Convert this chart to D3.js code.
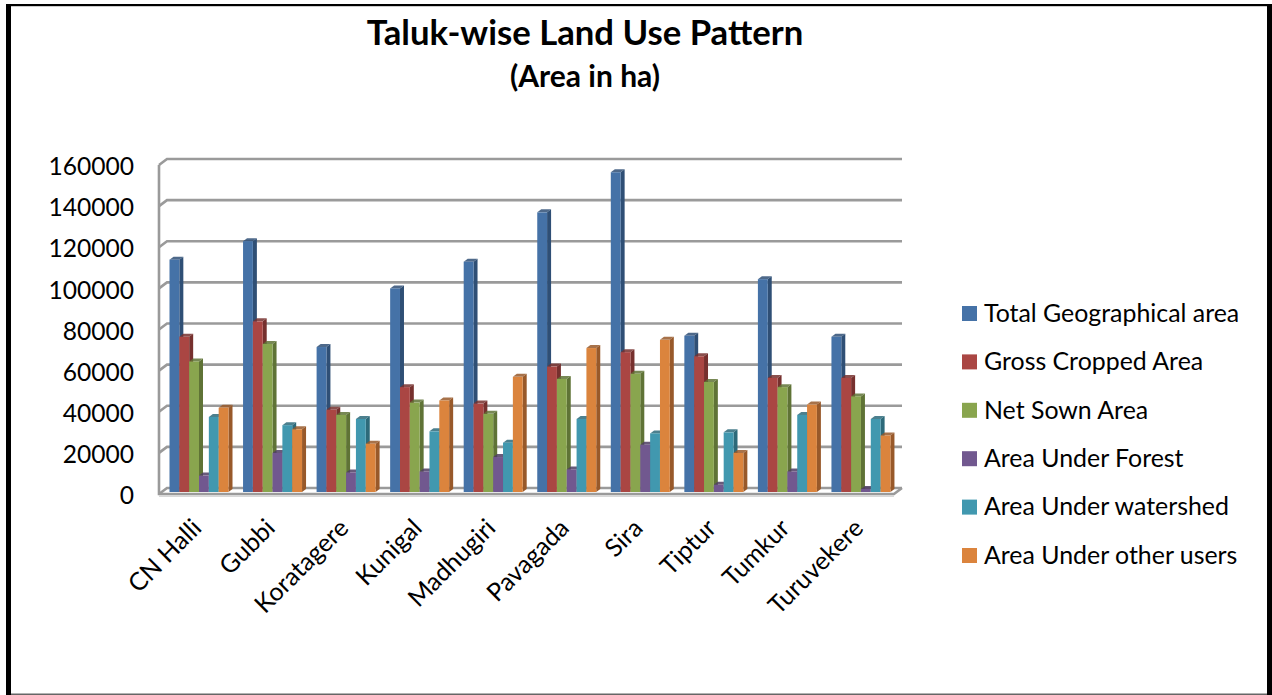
<!DOCTYPE html>
<html><head><meta charset="utf-8">
<script src="https://cdn.jsdelivr.net/npm/d3@7"></script>
<style>html,body{margin:0;padding:0;background:#fff}svg{display:block}text{font-family:Lato,"Open Sans",sans-serif;fill:#000}</style>
</head><body><svg id="c" width="1272" height="695"></svg>
<script>
const categories=["CN Halli","Gubbi","Koratagere","Kunigal","Madhugiri","Pavagada","Sira","Tiptur","Tumkur","Turuvekere"];
const seriesNames=["Total Geographical area","Gross Cropped Area","Net Sown Area","Area Under Forest","Area Under watershed","Area Under other users"];
const totalGeographical=[113000,122000,70500,99000,112000,136000,155500,76000,103500,75500];
const grossCropped=[75500,83000,40000,51000,43000,61000,68000,66000,55500,55500];
const netSown=[63500,72000,37500,43500,38000,55000,57500,53500,51000,46500];
const underForest=[8000,19000,9500,10000,17000,11000,23000,3500,10000,1500];
const underWatershed=[36500,32500,35500,29500,24000,35500,28500,29000,37500,35500];
const underOther=[41000,30500,23500,44500,56000,70000,74000,19000,42500,27500];
const seriesValues=[totalGeographical,grossCropped,netSown,underForest,underWatershed,underOther];
const yTicks=[0,20000,40000,60000,80000,100000,120000,140000,160000];
const colors=["#4572a7","#aa4643","#89a54e","#71588f","#4198af","#db843d"];
const sideColors=["#2f4f75","#76302e","#5f7336","#4e3d63","#2d6a7a","#98592a"];

const svg=d3.select("#c");
const y=d3.scaleLinear().domain([0,160000]).range([494,165]);
const x=d3.scaleBand().domain(categories).range([159.5,895]).padding(0);
const inner=d3.scaleBand().domain(d3.range(6)).range([10,69]);
const dx=8,dy=-6,barBase=-2,sw=4,th=3;

// frame: heavy left and right, thin top, grey bottom
svg.append("rect").attr("x",6).attr("y",4).attr("width",5).attr("height",691).attr("fill","#000");
svg.append("rect").attr("x",6).attr("y",4).attr("width",1266).attr("height",2.2).attr("fill","#000");
svg.append("rect").attr("x",1267).attr("y",4).attr("width",5).attr("height",691).attr("fill","#000");
svg.append("rect").attr("x",11).attr("y",693.5).attr("width",1256).attr("height",1.5).attr("fill","#666");

svg.append("text").attr("x",585).attr("y",45).attr("text-anchor","middle").attr("font-size",34.7).attr("font-weight",700).text("Taluk-wise Land Use Pattern");
svg.append("text").attr("x",585).attr("y",87).attr("text-anchor","middle").attr("font-size",30).attr("font-weight",700).text("(Area in ha)");

const grid=svg.append("g").attr("fill","none").attr("stroke","#9a9a9a").attr("stroke-width",2.6);
yTicks.forEach(t=>{
  const yy=y(t);
  grid.append("path").attr("d",`M159,${yy}L${159+dx},${yy+dy}L902,${yy+dy}`);
});
grid.append("path").attr("d",`M159,${y(160000)}L159,${y(0)}L894,${y(0)}L902,${y(0)+dy}`);
svg.append("line").attr("x1",159).attr("x2",894).attr("y1",y(0)+2).attr("y2",y(0)+2).attr("stroke","#d8d8d8").attr("stroke-width",2);

const yAxis=d3.axisLeft(y).tickValues(yTicks).tickSize(0).tickPadding(0).tickFormat(d3.format("d"));
const ga=svg.append("g").attr("transform","translate(134,1)").call(yAxis);
ga.select(".domain").remove();
ga.selectAll("text").attr("font-size",24.6).attr("fill","#000").style("font-family","Lato").attr("dy","0.35em");

const bars=svg.append("g");
categories.forEach((c,i)=>{
  seriesValues.forEach((vals,s)=>{
    const v=vals[i],bx=x(c)+inner(s),bw=inner.bandwidth(),top=y(v)+barBase,base=y(0)+barBase;
    const g=bars.append("g");
    g.append("path").attr("fill",sideColors[s]).attr("d",`M${bx+bw},${top}L${bx+bw+sw},${top-th}L${bx+bw+sw},${base-th}L${bx+bw},${base}Z`);
    g.append("path").attr("fill",sideColors[s]).attr("opacity",0.85).attr("d",`M${bx},${top}L${bx+sw},${top-th}L${bx+bw+sw},${top-th}L${bx+bw},${top}Z`);
    g.append("rect").attr("x",bx).attr("y",top).attr("width",bw).attr("height",base-top).attr("fill",colors[s]);
  });
});

categories.forEach(c=>{
  const px=x(c)+x.bandwidth()/2-4,py=519;
  svg.append("text").attr("transform",`translate(${px},${py}) rotate(-45)`).attr("text-anchor","end").attr("font-size",25).attr("dy","0.6em").text(c);
});

const leg=d3.scalePoint().domain(seriesNames).range([313,555]);
seriesNames.forEach((n,s)=>{
  svg.append("rect").attr("x",962).attr("y",leg(n)-7).attr("width",15).attr("height",15).attr("fill",colors[s]);
  svg.append("text").attr("x",984).attr("y",leg(n)).attr("dy","0.35em").attr("font-size",24.9).text(n);
});
</script></body></html>
